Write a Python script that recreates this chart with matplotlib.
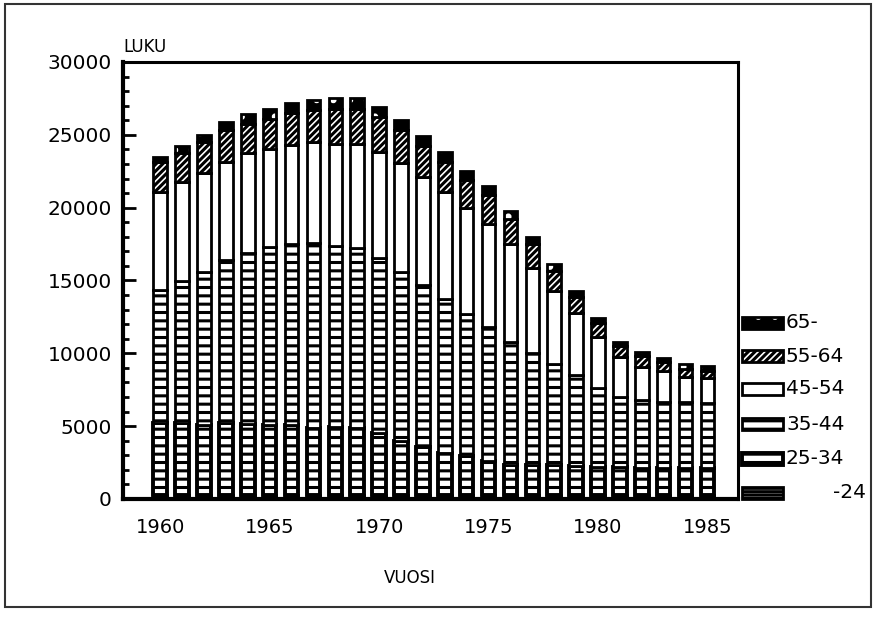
import matplotlib

matplotlib.use("Agg")
import matplotlib.pyplot as plt
from matplotlib.patches import Rectangle
from matplotlib.ticker import MultipleLocator

# years on the x axis
years = list(range(1960, 1986))

# counts per age group (bottom to top)
age_u24 = [300, 300, 300, 300, 300, 300, 300, 300, 300, 300, 300, 300, 300,
           250, 250, 250, 250, 250, 250, 250, 250, 250, 250, 250, 250, 250]
age_25_34 = [4900, 4900, 4800, 4900, 4850, 4800, 4750, 4600, 4650, 4550, 4200, 3700, 3250,
             2900, 2700, 2350, 2100, 2050, 2050, 2000, 1950, 1950, 1900, 1900, 1900, 1900]
age_35_44 = [9150, 9750, 10450, 11200, 11750, 12200, 12450, 12650, 12450, 12350, 12050, 11600, 11150,
             10550, 9750, 9200, 8400, 7700, 6950, 6250, 5400, 4800, 4650, 4500, 4500, 4450]
age_45_54 = [6700, 6800, 6800, 6700, 6850, 6700, 6800, 6950, 7000, 7200, 7250, 7450, 7400,
             7350, 7250, 7100, 6750, 5850, 5050, 4250, 3500, 2750, 2250, 2150, 1700, 1700]
age_55_64 = [2050, 2000, 2150, 2200, 2000, 2100, 2200, 2200, 2400, 2400, 2400, 2250, 2100,
             2100, 1950, 2000, 1700, 1650, 1350, 1150, 950, 750, 750, 600, 600, 500]
age_65 = [400, 450, 500, 600, 650, 700, 700, 700, 700, 700, 700, 700, 700,
          650, 600, 600, 550, 500, 450, 400, 350, 300, 300, 300, 300, 300]

groups = [age_u24, age_25_34, age_35_44, age_45_54, age_55_64, age_65]
labels = ["-24", "25-34", "35-44", "45-54", "55-64", "65-"]
# (facecolor, hatch, hatch colour, edge width)
styles = [
    ("white", "-----", "black", 2.0),
    ("white", "--", "black", 2.8),
    ("white", "--", "black", 2.0),
    ("white", "", "black", 2.0),
    ("white", "/////", "black", 2.0),
    ("black", ".", "white", 2.0),
]

plt.rcParams["font.family"] = "DejaVu Sans"
plt.rcParams["hatch.linewidth"] = 2.2

fig = plt.figure(figsize=(8.79, 6.18), dpi=100)
ax = fig.add_axes([0.140, 0.1926, 0.6996, 0.7071])

width = 0.62
bottom = [0] * len(years)
for vals, (fc, hatch, hc, lw) in zip(groups, styles):
    # fill with hatch, then a black outline on top
    ax.bar(years, vals, width, bottom=bottom, color=fc, edgecolor=hc,
           hatch=hatch, linewidth=0)
    ax.bar(years, vals, width, bottom=bottom, fill=False, edgecolor="black",
           linewidth=lw)
    bottom = [b + v for b, v in zip(bottom, vals)]

ax.set_xlim(1958.3, 1986.4)
ax.set_ylim(0, 30000)
ax.set_xticks(range(1960, 1986, 5))
ax.yaxis.set_major_locator(MultipleLocator(5000))
ax.yaxis.set_minor_locator(MultipleLocator(1000))
ax.tick_params(axis="y", which="major", direction="in", length=9, width=2,
               labelsize=14.5, pad=8)
ax.tick_params(axis="y", which="minor", direction="in", length=4.5, width=2)
ax.tick_params(axis="x", length=0, labelsize=14, pad=14)
for side in ["left", "bottom"]:
    ax.spines[side].set_linewidth(3)
for side in ["top", "right"]:
    ax.spines[side].set_linewidth(2.2)

fig.text(123 / 879, 1 - 47 / 618, "LUKU", fontsize=12, ha="left", va="center")
fig.text(410 / 879, 1 - 578 / 618, "VUOSI", fontsize=12, ha="center", va="center")

# legend drawn at the right, top row is the oldest group
row_y = [493, 459, 424, 389, 356, 323]
for lab, (fc, hatch, hc, lw), y in zip(labels, styles, row_y):
    fill = Rectangle((742 / 879, 1 - (y + 6) / 618), 41 / 879, 12 / 618,
                     transform=fig.transFigure, facecolor=fc, edgecolor=hc,
                     hatch=hatch, linewidth=0)
    edge = Rectangle((742 / 879, 1 - (y + 6) / 618), 41 / 879, 12 / 618,
                     transform=fig.transFigure, fill=False, edgecolor="black",
                     linewidth=lw)
    fig.patches.extend([fill, edge])
    if lab == "-24":
        fig.text(866 / 879, 1 - y / 618, lab, fontsize=14.5, ha="right", va="center")
    else:
        fig.text(786 / 879, 1 - y / 618, lab, fontsize=14.5, ha="left", va="center")

# outer frame of the page
fig.patches.append(Rectangle((5 / 879, 1 - 607 / 618), 866 / 879, 603 / 618,
                             transform=fig.transFigure, fill=False,
                             edgecolor="#333333", linewidth=1.5))

fig.savefig("out.png", dpi=100)
plt.close(fig)
